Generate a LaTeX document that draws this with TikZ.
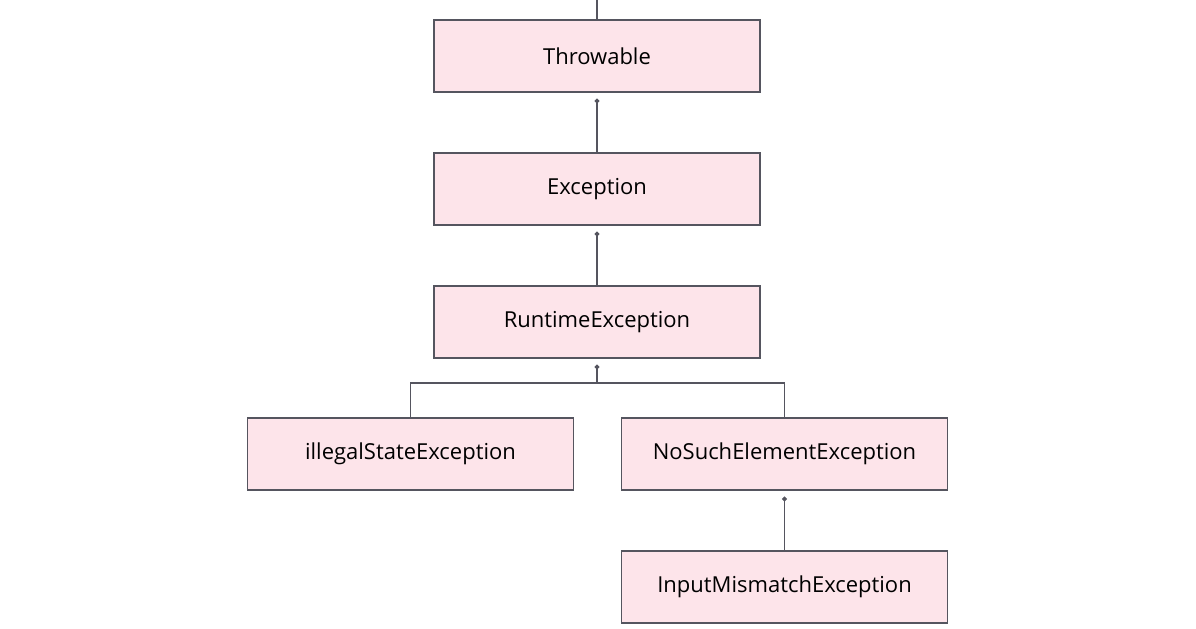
\documentclass[tikz,border=0pt]{standalone}
\usepackage{fontspec}
\setmainfont{Open Sans}
\usetikzlibrary{arrows.meta}
\definecolor{boxpink}{RGB}{253,228,234}
\definecolor{boxline}{RGB}{85,85,95}
\tikzset{
  cls/.style={draw=boxline, line width=0.6pt, fill=boxpink, minimum width=163pt, minimum height=36pt, inner sep=0pt, font=\fontsize{11}{13}\selectfont},
  inh/.style={draw=boxline, line width=0.6pt, shorten >=3pt, -{Circle[length=2.4pt]}}
}
\begin{document}
\begin{tikzpicture}[x=0.5pt,y=-0.5pt]
  \useasboundingbox (0,0) rectangle (1196,628);
  \node[cls] (throwable) at (597,56) {Throwable};
  \node[cls] (exception) at (597,189) {Exception};
  \node[cls] (runtime) at (597,322) {RuntimeException};
  \node[cls] (illegal) at (410.5,454) {illegalStateException};
  \node[cls] (nosuch) at (784.5,454) {NoSuchElementException};
  \node[cls] (input) at (784.5,587) {InputMismatchException};
  \coordinate (top) at (597,0);
  \coordinate (split) at (597,383);
  \draw[boxline, line width=0.6pt] (throwable.north) -- (top);
  \draw[inh] (exception) -- (throwable);
  \draw[inh] (runtime) -- (exception);
  \draw[boxline, line width=0.6pt] (illegal.north) |- (split) -| (nosuch.north);
  \draw[inh] (split) -- (runtime);
  \draw[inh] (input) -- (nosuch);
\end{tikzpicture}
\end{document}
